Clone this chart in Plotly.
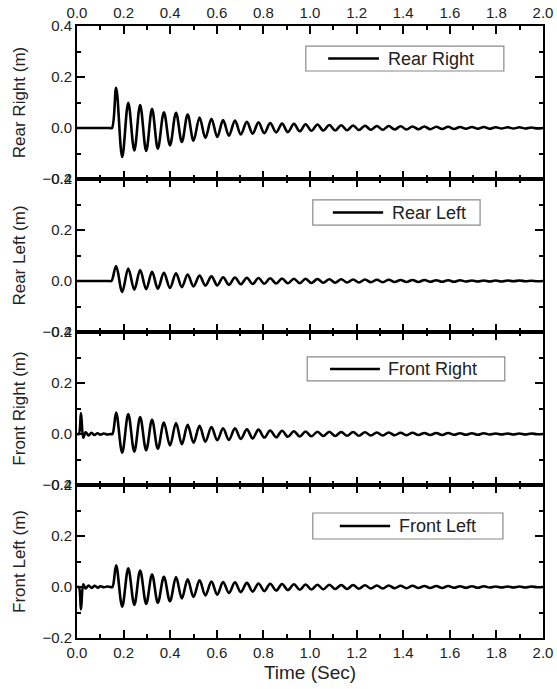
import plotly.graph_objects as go

# ---------------- data ----------------
panel_names = ["Rear Right", "Rear Left", "Front Right", "Front Left"]
y_titles = ["Rear Right (m)", "Rear Left (m)", "Front Right (m)", "Front Left (m)"]

x_ticks = [0.0, 0.2, 0.4, 0.6, 0.8, 1.0, 1.2, 1.4, 1.6, 1.8, 2.0]
y_ticks = [-0.2, 0.0, 0.2, 0.4]

peak_times = [0.168, 0.220, 0.271, 0.322, 0.373, 0.425, 0.475, 0.526, 0.577, 0.627,
              0.678, 0.729, 0.779, 0.829, 0.880, 0.931, 0.981, 1.032, 1.083, 1.134,
              1.185, 1.236, 1.287, 1.338, 1.389, 1.440, 1.491, 1.542, 1.593, 1.644,
              1.695, 1.746, 1.797, 1.848, 1.899, 1.950]
trough_times = [0.194, 0.246, 0.297, 0.347, 0.399, 0.450, 0.500, 0.551, 0.602, 0.652,
                0.703, 0.754, 0.804, 0.855, 0.905, 0.956, 1.006, 1.057, 1.108, 1.159,
                1.210, 1.261, 1.312, 1.363, 1.414, 1.465, 1.516, 1.567, 1.618, 1.669,
                1.720, 1.771, 1.822, 1.873, 1.924, 1.975]

rr_peaks = [0.158, 0.099, 0.090, 0.075, 0.062, 0.060, 0.053, 0.041, 0.036, 0.031,
            0.029, 0.024, 0.022, 0.019, 0.017, 0.016, 0.015, 0.014, 0.012, 0.011,
            0.010, 0.009, 0.008, 0.008, 0.007, 0.006, 0.006, 0.005, 0.005, 0.004,
            0.004, 0.004, 0.003, 0.003, 0.003, 0.002]
rr_troughs = [-0.114, -0.088, -0.090, -0.081, -0.068, -0.055, -0.050, -0.039, -0.035, -0.030,
              -0.025, -0.022, -0.020, -0.017, -0.016, -0.013, -0.011, -0.010, -0.010, -0.009,
              -0.008, -0.007, -0.007, -0.006, -0.006, -0.005, -0.005, -0.004, -0.004, -0.003,
              -0.003, -0.003, -0.002, -0.002, -0.002, -0.002]
rr_pre_t = [0.0, 0.140, 0.150]
rr_pre_v = [0.0, 0.0, 0.0]

rl_peaks = [0.059, 0.049, 0.043, 0.036, 0.032, 0.030, 0.025, 0.021, 0.018, 0.015,
            0.014, 0.013, 0.012, 0.011, 0.010, 0.009, 0.009, 0.008, 0.007, 0.007,
            0.006, 0.006, 0.005, 0.005, 0.004, 0.004, 0.004, 0.003, 0.003, 0.003,
            0.002, 0.002, 0.002, 0.002, 0.002, 0.001]
rl_troughs = [-0.043, -0.034, -0.032, -0.030, -0.027, -0.024, -0.021, -0.018, -0.017, -0.015,
              -0.013, -0.012, -0.011, -0.010, -0.009, -0.009, -0.008, -0.007, -0.007, -0.006,
              -0.006, -0.005, -0.005, -0.004, -0.004, -0.004, -0.003, -0.003, -0.003, -0.002,
              -0.002, -0.002, -0.002, -0.001, -0.001, -0.001]
rl_pre_t = [0.0, 0.138, 0.148]
rl_pre_v = [0.0, 0.0, 0.0]

fr_peaks = [0.084, 0.078, 0.066, 0.056, 0.045, 0.043, 0.036, 0.032, 0.027, 0.022,
            0.022, 0.018, 0.017, 0.014, 0.013, 0.011, 0.010, 0.009, 0.009, 0.008,
            0.008, 0.007, 0.006, 0.006, 0.005, 0.005, 0.004, 0.004, 0.004, 0.003,
            0.003, 0.003, 0.002, 0.002, 0.002, 0.002]
fr_troughs = [-0.073, -0.069, -0.064, -0.058, -0.045, -0.040, -0.034, -0.030, -0.024, -0.023,
              -0.019, -0.017, -0.014, -0.013, -0.011, -0.010, -0.009, -0.008, -0.008, -0.007,
              -0.007, -0.006, -0.006, -0.005, -0.005, -0.004, -0.004, -0.004, -0.003, -0.003,
              -0.003, -0.002, -0.002, -0.002, -0.002, -0.001]
fr_pre_t = [0.0, 0.008, 0.017, 0.027, 0.037, 0.050, 0.062, 0.075, 0.088, 0.100, 0.115, 0.130, 0.143, 0.152]
fr_pre_v = [0.0, 0.0, 0.082, -0.015, 0.007, -0.006, 0.005, -0.004, 0.003, -0.003, 0.002, -0.002, 0.0, 0.0]

fl_peaks = [0.085, 0.073, 0.065, 0.049, 0.040, 0.039, 0.030, 0.026, 0.021, 0.019,
            0.018, 0.016, 0.014, 0.013, 0.012, 0.011, 0.010, 0.009, 0.009, 0.008,
            0.008, 0.007, 0.006, 0.006, 0.005, 0.005, 0.004, 0.004, 0.004, 0.003,
            0.003, 0.003, 0.002, 0.002, 0.002, 0.002]
fl_troughs = [-0.077, -0.070, -0.066, -0.062, -0.056, -0.045, -0.039, -0.033, -0.030, -0.023,
              -0.020, -0.018, -0.016, -0.014, -0.012, -0.011, -0.010, -0.009, -0.008, -0.008,
              -0.007, -0.006, -0.006, -0.005, -0.005, -0.004, -0.004, -0.004, -0.003, -0.003,
              -0.003, -0.002, -0.002, -0.002, -0.002, -0.001]
fl_pre_t = [0.0, 0.008, 0.017, 0.027, 0.037, 0.050, 0.063, 0.075, 0.090, 0.100, 0.115, 0.130, 0.143, 0.152]
fl_pre_v = [0.0, 0.0, -0.088, 0.011, -0.006, 0.006, -0.004, 0.005, -0.003, 0.003, -0.001, 0.002, 0.0, 0.0]

end_t = [2.0]
end_v = [0.0]

series = [
    (rr_pre_t, rr_pre_v, rr_peaks, rr_troughs),
    (rl_pre_t, rl_pre_v, rl_peaks, rl_troughs),
    (fr_pre_t, fr_pre_v, fr_peaks, fr_troughs),
    (fl_pre_t, fl_pre_v, fl_peaks, fl_troughs),
]

# legend box geometry in axis-domain fractions (style, not data)
legend_boxes = [
    dict(x0=0.491, x1=0.916, y0=0.706, y1=0.869, lx0=0.539, lx1=0.648, tx=0.663),
    dict(x0=0.506, x1=0.865, y0=0.699, y1=0.863, lx0=0.549, lx1=0.657, tx=0.672),
    dict(x0=0.494, x1=0.918, y0=0.680, y1=0.837, lx0=0.543, lx1=0.650, tx=0.663),
    dict(x0=0.506, x1=0.914, y0=0.647, y1=0.817, lx0=0.564, lx1=0.672, tx=0.687),
]

FONT = "Liberation Sans, Arial, sans-serif"

fig = go.Figure()
domains = [[0.75, 1.0], [0.5, 0.75], [0.25, 0.5], [0.0, 0.25]]

for i, (pre_t, pre_v, pk, tr) in enumerate(series):
    t_vals = list(pre_t)
    v_vals = list(pre_v)
    for k in range(len(peak_times)):
        t_vals += [peak_times[k], trough_times[k]]
        v_vals += [pk[k], tr[k]]
    t_vals += end_t
    v_vals += end_v
    n = "" if i == 0 else str(i + 1)
    fig.add_trace(go.Scatter(
        x=t_vals, y=v_vals, mode="lines", name=panel_names[i],
        line=dict(color="black", width=2.6, shape="spline", smoothing=1.0),
        xaxis="x" + n, yaxis="y" + n, showlegend=False,
    ))

    xa = dict(
        range=[0, 2.0], tickvals=x_ticks, tickformat=".1f",
        ticks="inside", ticklen=8, tickwidth=1.5, tickcolor="black",
        minor=dict(ticks="inside", ticklen=4, tickwidth=1.5, dtick=0.1, tick0=0, tickcolor="black"),
        showline=True, linecolor="black", linewidth=2, mirror="ticks",
        showgrid=False, zeroline=False, anchor="y" + n,
        tickfont=dict(family=FONT, size=15, color="#222"),
        domain=[0, 1],
    )
    if i == 0:
        xa.update(side="top", showticklabels=True)
    elif i == 3:
        xa.update(side="bottom", showticklabels=True,
                  title=dict(text="Time (Sec)", font=dict(family=FONT, size=19, color="#222"), standoff=6))
    else:
        xa.update(showticklabels=False)
    ya = dict(
        range=[-0.2, 0.4], tickvals=y_ticks, tickformat=".1f",
        ticks="inside", ticklen=8, tickwidth=1.5, tickcolor="black",
        minor=dict(ticks="inside", ticklen=4, tickwidth=1.5, dtick=0.1, tick0=0, tickcolor="black"),
        showline=True, linecolor="black", linewidth=2, mirror="ticks",
        showgrid=False, zeroline=False, anchor="x" + n, domain=domains[i],
        tickfont=dict(family=FONT, size=15, color="#222"),
        title=dict(text=y_titles[i], font=dict(family=FONT, size=17, color="#222"), standoff=12),
    )
    fig.update_layout(**{"xaxis" + n: xa, "yaxis" + n: ya})

    b = legend_boxes[i]
    xr = "x" + n + " domain"
    yr = "y" + n + " domain"
    yc = (b["y0"] + b["y1"]) / 2
    fig.add_shape(type="rect", xref=xr, yref=yr, x0=b["x0"], x1=b["x1"], y0=b["y0"], y1=b["y1"],
                  line=dict(color="#8a8a8a", width=1.2), fillcolor="white")
    fig.add_shape(type="line", xref=xr, yref=yr, x0=b["lx0"], x1=b["lx1"], y0=yc, y1=yc,
                  line=dict(color="black", width=2.4))
    fig.add_annotation(xref=xr, yref=yr, x=b["tx"], y=yc, text=panel_names[i], showarrow=False,
                       xanchor="left", yanchor="middle",
                       font=dict(family=FONT, size=18, color="#222"))

fig.update_layout(
    width=557, height=689,
    margin=dict(l=77, r=14, t=26, b=51, autoexpand=False),
    paper_bgcolor="white", plot_bgcolor="white",
    showlegend=False,
)

fig.write_html(
    "out.html",
    config={"displayModeBar": False},
    post_script="document.body.style.margin='0';document.body.style.overflow='hidden';",
)
